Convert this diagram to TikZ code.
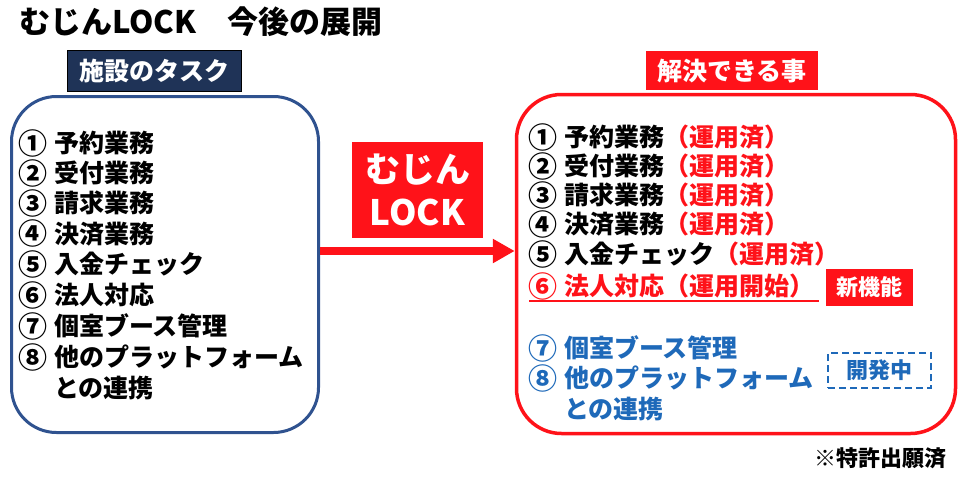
\documentclass[tikz,border=0pt]{standalone}
\usepackage{fontspec}
\setmainfont{Noto Sans CJK JP}
\usetikzlibrary{arrows.meta}
\definecolor{myred}{RGB}{255,18,25}
\definecolor{navy}{RGB}{31,51,87}
\definecolor{lblue}{RGB}{47,82,143}
\definecolor{tblue}{RGB}{30,105,185}
\newcommand\itm[2]{\makebox[35pt][l]{\hspace{-1pt}\raisebox{-1.6pt}{\fontsize{29}{34}\selectfont #1}}#2}
\begin{document}
\begin{tikzpicture}[x=1pt,y=-1pt,
  itemtxt/.style={anchor=base west, inner sep=0pt, font=\bfseries\fontsize{25}{30}\selectfont},
  lbl/.style={text=white, inner sep=0pt, font=\bfseries\fontsize{25}{30}\selectfont, text height=22pt, text depth=3pt},
  tag/.style={inner sep=0pt, font=\bfseries\fontsize{22}{26}\selectfont, text height=19.4pt, text depth=2.6pt},
  bigbox/.style={rounded corners=45pt, line width=3pt, inner sep=0pt},
]
\useasboundingbox (0,0) rectangle (969,479);

% title
\node[anchor=base west, inner sep=0pt, font=\bfseries\fontsize{31}{36}\selectfont] (title) at (19,33) {むじんLOCK　今後の展開};

% left side
\node[lbl, fill=navy, draw=black, line width=0.8pt, minimum width=174pt, minimum height=41pt] (lhead) at (154,70.5) {施設のタスク};
\node[bigbox, draw=lblue, minimum width=307pt, minimum height=336pt] (leftbox) at (165,264.5) {};

\node[itemtxt] (l1) at (19,152.5) {\itm{①}{予約業務}};
\node[itemtxt] (l2) at (19,182.5) {\itm{②}{受付業務}};
\node[itemtxt] (l3) at (19,212.5) {\itm{③}{請求業務}};
\node[itemtxt] (l4) at (19,243) {\itm{④}{決済業務}};
\node[itemtxt] (l5) at (19,273.5) {\itm{⑤}{入金チェック}};
\node[itemtxt] (l6) at (19,304.5) {\itm{⑥}{法人対応}};
\node[itemtxt] (l7) at (19,335.5) {\itm{⑦}{個室ブース管理}};
\node[itemtxt] (l8) at (19,366.5) {\itm{⑧}{他のプラットフォーム}};
\node[itemtxt] (l9) at (19,397.5) {\itm{\phantom{⑧}}{との連携}};

% middle
\node[fill=myred, text=white, inner sep=0pt, minimum width=131pt, minimum height=96pt, align=center, font=\bfseries\fontsize{35}{43}\selectfont] (lock) at (417.5,190) {むじん\\LOCK};

% right side
\node[lbl, fill=myred, minimum width=172pt, minimum height=39pt] (rhead) at (732,70.5) {解決できる事};
\node[bigbox, draw=myred, line width=3.5pt, minimum width=439pt, minimum height=339pt] (rightbox) at (736,264) {};

\draw[myred, line width=8pt, -{Triangle[length=22pt,width=23pt]}] (leftbox.east |- 0,251) -- (rightbox.west |- 0,251);

\node[itemtxt] (r1) at (529,146.5) {\itm{①}{予約業務\textcolor{myred}{（運用済）}}};
\node[itemtxt] (r2) at (529,175.5) {\itm{②}{受付業務\textcolor{myred}{（運用済）}}};
\node[itemtxt] (r3) at (529,204.5) {\itm{③}{請求業務\textcolor{myred}{（運用済）}}};
\node[itemtxt] (r4) at (529,233.5) {\itm{④}{決済業務\textcolor{myred}{（運用済）}}};
\node[itemtxt] (r5) at (529,263.5) {\itm{⑤}{入金チェック\textcolor{myred}{（運用済）}}};
\node[itemtxt, text=myred] (r6) at (529,295.5) {\itm{⑥}{法人対応（運用開始）}};
\draw[myred, line width=1.6pt] ([yshift=-5.5pt]r6.base west) -- ([yshift=-5.5pt]r6.base west -| 819,0);

\node[tag, fill=myred, text=white, minimum width=87pt, minimum height=37pt] (newf) at (869.5,287.5) {新機能};

\node[itemtxt, text=tblue] (r7) at (529,357.5) {\itm{⑦}{個室ブース管理}};
\node[itemtxt, text=tblue] (r8) at (529,387.5) {\itm{⑧}{他のプラットフォーム}};
\node[itemtxt, text=tblue] (r9) at (529,418.5) {\itm{\phantom{⑧}}{との連携}};

\node[tag, draw=tblue, text=tblue, line width=2.5pt, dash pattern=on 7pt off 4pt, minimum width=103pt, minimum height=35pt] (dev) at (879.5,370.5) {開発中};

\node[tag] (patent) at (880,458) {※特許出願済};
\end{tikzpicture}
\end{document}
